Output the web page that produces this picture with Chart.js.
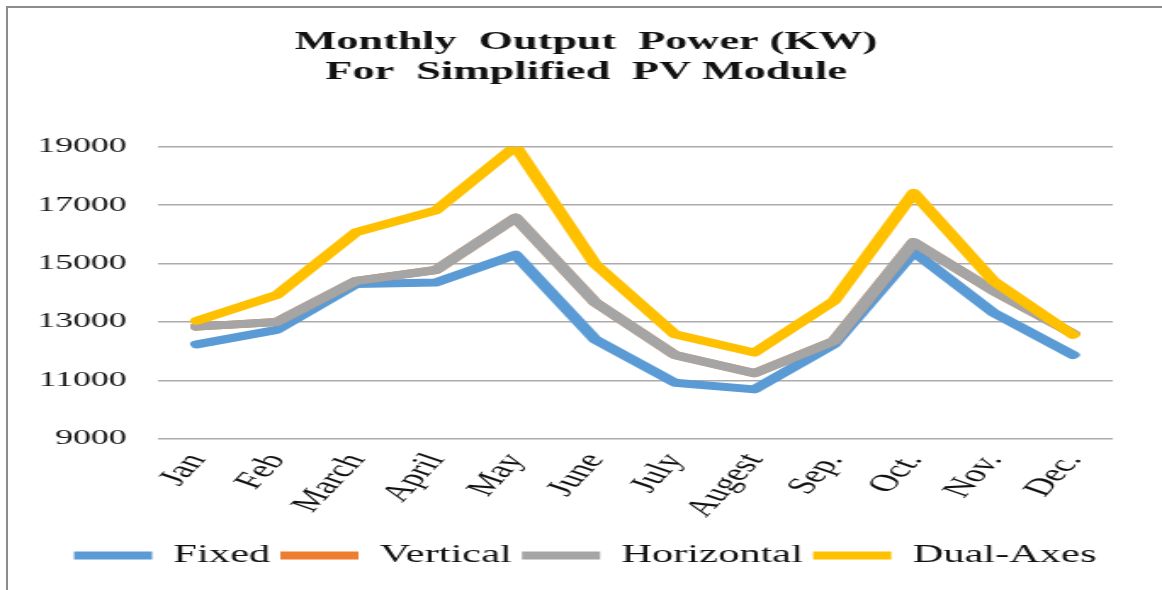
<!DOCTYPE html>
<html lang="en">

<head>
  <meta charset="UTF-8">
  <title>Monthly Output Power</title>
  <script src="https://cdn.jsdelivr.net/npm/chart.js"></script>
  <style>
    html, body { margin: 0; padding: 0; background: #fff; }
    body { width: 1162px; height: 590px; position: relative; overflow: hidden; }
    .frame {
      position: absolute; left: 6px; top: 6px; right: -10px; bottom: -10px;
      border-top: 2px solid #8c8c8c; border-left: 2px solid #8c8c8c;
    }
    /* the chart is laid out narrow and stretched out to the full width */
    .wrap {
      position: absolute; left: 0; top: 0; width: 684px; height: 590px;
      transform: scaleX(1.69883); transform-origin: 0 0;
    }
  </style>
</head>

<body>
  <div class="frame"></div>
  <div class="wrap"><canvas id="powerChart"></canvas></div>
  <script>
    const months = ['Jan', 'Feb', 'March', 'April', 'May', 'June', 'July', 'Augest', 'Sep.', 'Oct.', 'Nov.', 'Dec.'];
    const fixed = [12230, 12730, 14300, 14350, 15300, 12400, 10920, 10690, 12240, 15400, 13320, 11870];
    const vertical = [12840, 13000, 14410, 14780, 16570, 13670, 11870, 11240, 12350, 15730, 14070, 12600];
    const horizontal = [12840, 13000, 14410, 14780, 16570, 13670, 11870, 11240, 12350, 15730, 14070, 12600];
    const dualAxes = [13040, 13920, 16080, 16820, 19020, 14980, 12580, 11950, 13720, 17420, 14410, 12560];
    const yTicks = [9000, 11000, 13000, 15000, 17000, 19000];

    const serif = '"Liberation Serif", "Times New Roman", serif';

    function series(label, data, color, order) {
      return {
        label: label,
        data: data,
        borderColor: color,
        backgroundColor: color,
        borderWidth: 8,
        borderCapStyle: 'round',
        borderJoinStyle: 'round',
        pointRadius: 0,
        tension: 0,
        order: order, // later series sit on top
      };
    }

    // title and legend sit a little right of the plot's centre
    const nudgeBlocks = {
      id: 'nudgeBlocks',
      afterLayout(chart) {
        const moves = [[chart.titleBlock, 6.5], [chart.legend, 6]];
        moves.forEach(([box, dx]) => {
          if (!box) return;
          box.left += dx;
          box.right += dx;
        });
      },
    };

    const ctx = document.getElementById('powerChart').getContext('2d');
    const chart = new Chart(ctx, {
      type: 'line',
      data: {
        labels: months,
        datasets: [
          series('Fixed', fixed, '#5b9bd5', 3),
          series('Vertical', vertical, '#ed7d31', 2),
          series('Horizontal', horizontal, '#a5a5a5', 1),
          series('Dual-Axes', dualAxes, '#ffc000', 0),
        ]
      },
      plugins: [nudgeBlocks],
      options: {
        responsive: true,
        maintainAspectRatio: false,
        animation: false,
        layout: { padding: { top: 6, left: 22, right: 29, bottom: 12 } },
        plugins: {
          title: {
            display: true,
            text: ['Monthly  Output  Power (KW)', 'For  Simplified  PV Module'],
            color: '#111',
            font: { family: serif, size: 26, weight: 'bold', lineHeight: 1.15 },
            padding: { top: 21, bottom: 60 },
          },
          legend: {
            position: 'bottom',
            labels: {
              usePointStyle: true,
              pointStyle: 'line',
              pointStyleWidth: 46,
              padding: 6,
              color: '#111',
              font: { family: serif, size: 25 },
              sort: (a, b) => a.datasetIndex - b.datasetIndex,
            },
          },
          tooltip: { enabled: false },
        },
        scales: {
          x: {
            offset: true,
            afterFit: (axis) => { axis.height += 13; },
            grid: { display: false },
            border: { display: false },
            ticks: {
              color: '#111',
              font: { family: serif, size: 24 },
              minRotation: 60,
              maxRotation: 60,
              padding: 2,
            },
          },
          y: {
            min: 9000,
            max: 19000,
            afterBuildTicks: (axis) => { axis.ticks = yTicks.map(v => ({ value: v })); },
            grid: { color: '#ababab', lineWidth: 1.5, tickLength: 18, tickColor: 'rgba(0,0,0,0)' },
            border: { display: false },
            ticks: {
              color: '#111',
              font: { family: serif, size: 21 },
              padding: 0,
              callback: (v) => String(v),
            },
          },
        },
      },
    });
  </script>
</body>

</html>
